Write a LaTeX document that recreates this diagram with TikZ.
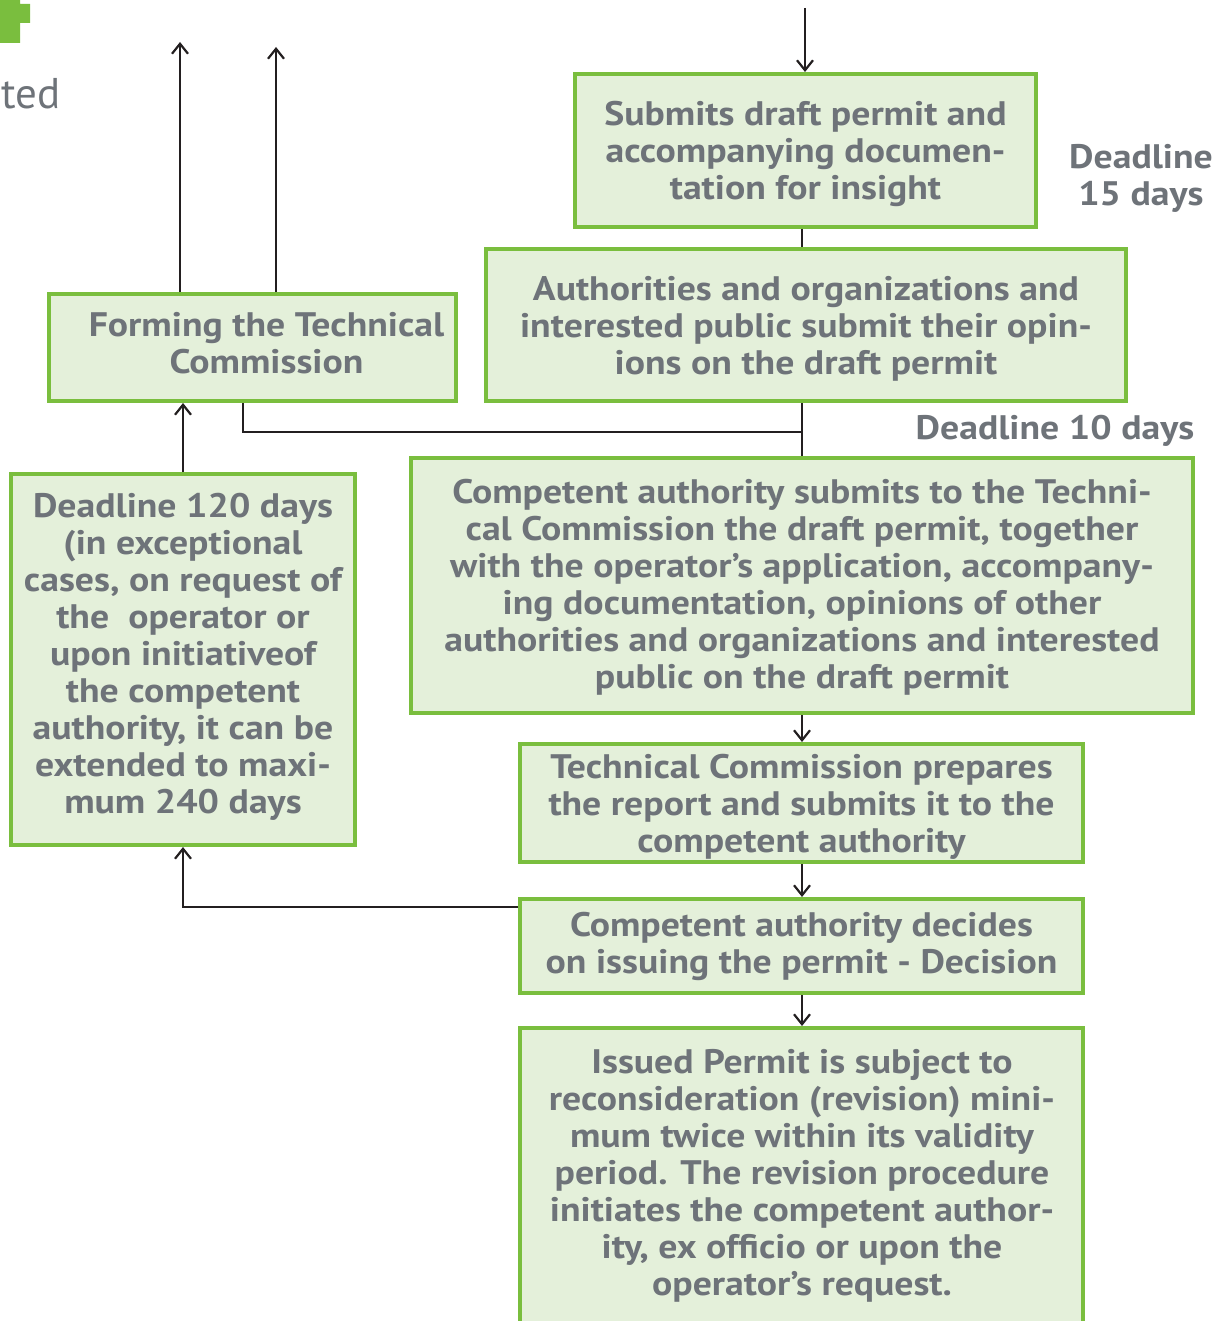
\documentclass[tikz,border=0pt]{standalone}
\usepackage{fontspec}
\setmainfont{PT Sans}[BoldFeatures={FakeStretch=1.11}]
\usetikzlibrary{arrows.meta}
\definecolor{gborder}{RGB}{122,190,62}
\definecolor{gfill}{RGB}{228,240,218}
\definecolor{gtext}{RGB}{110,115,121}
\definecolor{ink}{RGB}{35,31,32}
\newcommand\boxtxt[2]{\raisebox{#1}[\height][\depth]{\begin{tabular}{@{}c@{}}#2\end{tabular}}}
\begin{document}
\begin{tikzpicture}[x=0.5pt,y=-0.5pt,
  box/.style={draw=gborder, fill=gfill, line width=2pt, inner sep=0pt, align=center,
    font=\bfseries\fontsize{17}{18.5}\selectfont, text=gtext},
  lbl/.style={align=center, inner sep=0pt, font=\bfseries\fontsize{17}{18.5}\selectfont, text=gtext},
  conn/.style={draw=ink, line width=1.1pt},
  arr/.style={conn, -{Straight Barb[length=5pt,width=8pt,line width=1.1pt]}}]
\clip (0,0) rectangle (1230,1321);
% corner mark
\fill[gborder] (0,0) -- (20,0) -- (20,4) -- (30,4) -- (30,23) -- (20,23) -- (20,43) -- (0,43) -- cycle;
\node[anchor=base east, inner sep=0pt, text=gtext, font=\fontsize{21.5}{24}\selectfont] (ted) at (61,109) {ted};

% boxes
\node[box, minimum width=230.5pt, minimum height=76.5pt] (b1) at (805.5,150.5)
  {\boxtxt{-2.5pt}{Submits draft permit and\\accompanying documen-\\tation for insight}};
\node[box, minimum width=320pt, minimum height=76pt] (b2) at (806,325)
  {\boxtxt{-2.5pt}{Authorities and organizations and\\interested public submit their opin-\\ions on the draft permit}};
\node[box, minimum width=203.5pt, minimum height=53.5pt] (fc) at (252.5,347.5)
  {\boxtxt{0pt}{\hspace*{14pt}Forming the Technical\\\hspace*{14pt}Commission}};
\node[box, minimum width=391pt, minimum height=127.5pt] (b3) at (802,585.5)
  {\boxtxt{-1.75pt}{Competent authority submits to the Techni-\\cal Commission the draft permit, together\\with the operator’s application, accompany-\\ing documentation, opinions of other\\authorities and organizations and interested\\public on the draft permit}};
\node[box, minimum width=281.5pt, minimum height=59pt] (b4) at (801.5,803)
  {\boxtxt{-2.5pt}{Technical Commission prepares\\the report and submits it to the\\competent authority}};
\node[box, minimum width=281.5pt, minimum height=47pt] (b5) at (801.5,946)
  {\boxtxt{-0.75pt}{Competent authority decides\\on issuing the permit - Decision}};
\node[box, minimum width=281.5pt, minimum height=156pt] (b6) at (801.5,1184) {};
\node[lbl] (t6) at (802,1176)
  {Issued Permit is subject to\\reconsideration (revision) mini-\\mum twice within its validity\\period. The revision procedure\\initiates the competent author-\\ity, ex officio or upon the\\operator’s request.};
\node[box, minimum width=172pt, minimum height=185.5pt] (db) at (183,659.5)
  {\boxtxt{0.5pt}{Deadline 120 days\\(in exceptional\\cases, on request of\\the\ \ operator or\\upon initiativeof\\the competent\\authority, it can be\\extended to maxi-\\mum 240 days}};

% side labels
\node[lbl] (d15) at (1141,178) {Deadline\\15 days};
\node[lbl] (d10) at (1055,431) {Deadline 10 days};

% connectors
\coordinate (top) at (805,8);
\coordinate (up1) at (180,42);
\coordinate (up2) at (276,47);
\coordinate (j) at (802,432);
\draw[arr] (top) -- (top |- b1.north);
\draw[conn] (b1.south -| b3.north) -- (b2.north -| b3.north);
\draw[conn] (b2.south -| b3.north) -- (b3.north);
\draw[conn] ([xshift=-4.75pt]fc.south) |- (j);
\draw[arr] (b3.south) -- (b3.south |- b4.north);
\draw[arr] (b4.south -| b3.south) -- (b5.north -| b3.south);
\draw[arr] (b5.south -| b3.south) -- (b6.north -| b3.south);
\draw[arr] (db.north) -- (db.north |- fc.south);
\draw[arr] ([yshift=19.5pt]b5.west) -| (db.south);
\draw[arr] (up1 |- fc.north) -- (up1);
\draw[arr] (up2 |- fc.north) -- (up2);
\end{tikzpicture}
\end{document}
